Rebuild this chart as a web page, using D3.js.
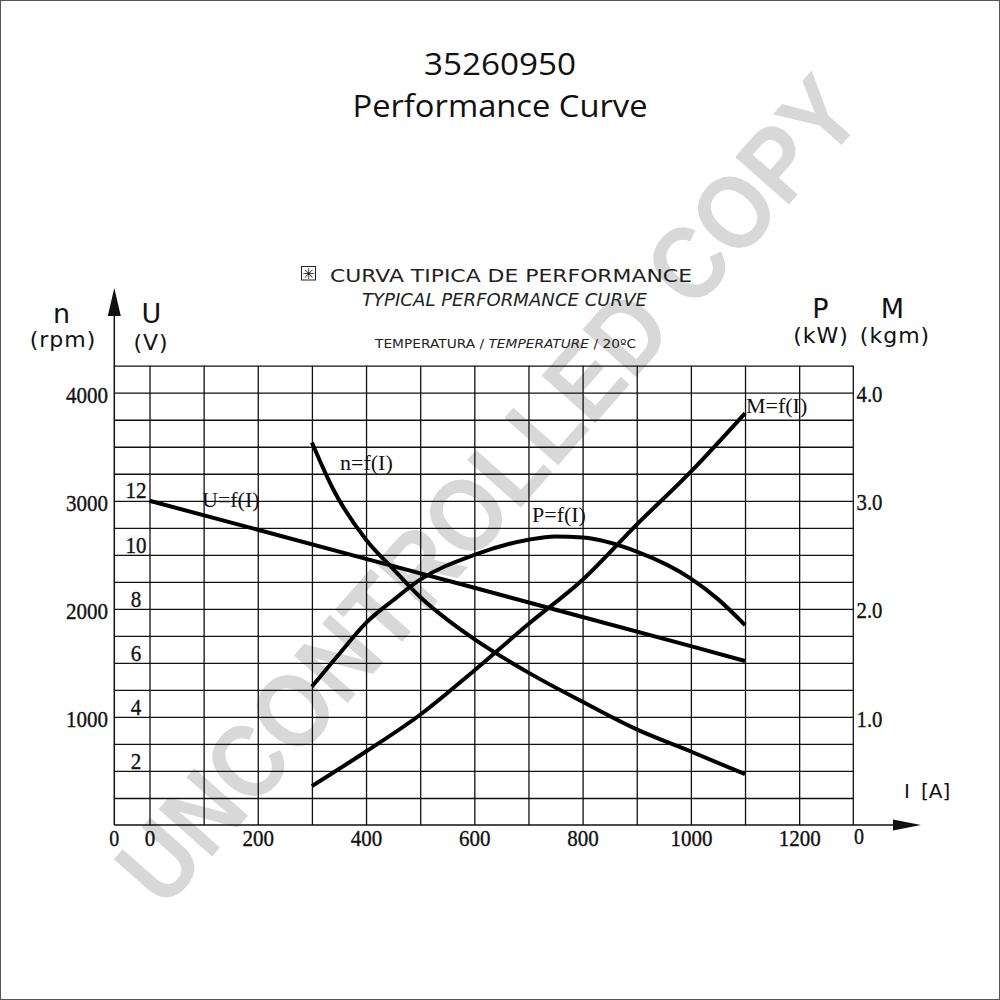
<!DOCTYPE html>
<html><head><meta charset="utf-8">
<script src="https://cdn.jsdelivr.net/npm/d3@7"></script>
<style>body{margin:0;background:#fff} svg{display:block}</style>
</head><body>
<svg id="c" width="1000" height="1000"></svg>
<script>
// ---- data ----
const gridCurrents = [0,100,200,300,400,500,600,700,800,900,1000,1100,1200];
const currentTicks = [0,200,400,600,800,1000,1200];
const rpmGrid = [250,500,750,1000,1250,1500,1750,2000,2250,2500,2750,3000,3250,3500,3750,4000];
const rpmTicks = [1000,2000,3000,4000];
const voltTicks = [2,4,6,8,10,12];
const powerTicks = [1.0,2.0,3.0,4.0];

const uCurrent = [0,200,400,600,800,1000,1100];
const uVolts   = [12.0,10.93,9.85,8.78,7.70,6.62,6.07];

const nCurrent = [300,340,400,450,500,550,600,700,800,900,1000,1100];
const nRpm     = [3540,3100,2640,2370,2110,1900,1720,1410,1140,885,680,470];

const pCurrent = [300,350,400,450,500,600,700,750,800,900,1000,1050,1100];
const pKw      = [1.28,1.58,1.87,2.08,2.27,2.50,2.64,2.67,2.66,2.53,2.28,2.09,1.85];

const mCurrent = [300,400,500,600,700,800,900,1000,1100];
const mKgm     = [0.36,0.68,1.02,1.43,1.86,2.27,2.78,3.27,3.81];

// ---- layout ----
const svg = d3.select("#c");
const X0 = 114.3, X1 = 853.3, Y0 = 825, Y1 = 365.7;
const x  = d3.scaleLinear().domain([-65,1300]).range([X0,X1]);
const yN = d3.scaleLinear().domain([0,4250]).range([Y0,Y1]);
const yU = d3.scaleLinear().domain([0,17]).range([Y0,Y1]);
const yP = d3.scaleLinear().domain([0,4.25]).range([Y0,Y1]);

// border
svg.append("rect").attr("x",0.5).attr("y",0.5).attr("width",999).attr("height",999)
  .attr("fill","none").attr("stroke","#555").attr("stroke-width",1);

// watermark (behind everything)
svg.append("text").text("UNCONTROLLED COPY")
  .attr("transform","translate(488,490) rotate(-48.5)")
  .attr("text-anchor","middle").attr("dominant-baseline","central")
  .attr("font-family","Liberation Sans, Arial, sans-serif").attr("font-weight","bold")
  .attr("font-size",104).attr("fill","#d8d8d8")
  .attr("textLength",1060).attr("lengthAdjust","spacingAndGlyphs");

// titles
svg.append("text").text("35260950").attr("x",500).attr("y",75).attr("text-anchor","middle")
  .attr("font-family","Open Sans, sans-serif").attr("font-size",31).attr("fill","#111")
  .attr("textLength",152).attr("lengthAdjust","spacingAndGlyphs");
svg.append("text").text("Performance Curve").attr("x",500).attr("y",117).attr("text-anchor","middle")
  .attr("font-family","Open Sans, sans-serif").attr("font-size",31).attr("fill","#111")
  .attr("textLength",295).attr("lengthAdjust","spacingAndGlyphs");

// CAD captions
const cad = "DejaVu Sans, sans-serif";
svg.append("rect").attr("x",301.5).attr("y",266.5).attr("width",14).attr("height",13.5)
  .attr("fill","none").attr("stroke","#222").attr("stroke-width",1);
svg.append("text").text("✳").attr("x",308.5).attr("y",278.5).attr("text-anchor","middle")
  .attr("font-family",cad).attr("font-size",15).attr("fill","#222");
svg.append("text").text("CURVA TIPICA DE PERFORMANCE").attr("x",330).attr("y",281.5)
  .attr("font-family",cad).attr("font-size",17).attr("fill","#222")
  .attr("textLength",362).attr("lengthAdjust","spacingAndGlyphs");
svg.append("text").text("TYPICAL PERFORMANCE CURVE").attr("x",362).attr("y",305.5)
  .attr("font-family",cad).attr("font-size",17).attr("font-style","italic").attr("fill","#222")
  .attr("textLength",285).attr("lengthAdjust","spacingAndGlyphs");
const tt = svg.append("text").attr("x",375).attr("y",347.5)
  .attr("font-family",cad).attr("font-size",12.5).attr("fill","#222")
  .attr("textLength",261).attr("lengthAdjust","spacingAndGlyphs");
tt.append("tspan").text("TEMPERATURA / ");
tt.append("tspan").attr("font-style","italic").text("TEMPERATURE");
tt.append("tspan").text(" / 20ºC");

// axis unit labels
function lab(t, xx, yy, fs){
  return svg.append("text").text(t).attr("x",xx).attr("y",yy).attr("text-anchor","middle")
    .attr("font-family",cad).attr("font-size",fs).attr("fill","#111").attr("letter-spacing",1);
}
lab("n",62,323,27); lab("(rpm)",63,347,22);
lab("U",152,323,27); lab("(V)",151,350,22);
lab("P",821,318,27); lab("(kW)",821,343,22);
lab("M",893,318,27); lab("(kgm)",895,343,22);
const ia = svg.append("text").attr("x",904).attr("y",798).attr("font-family",cad)
  .attr("font-size",20).attr("fill","#111");
ia.append("tspan").text("I");
ia.append("tspan").attr("dx",11).text("[A]");

// grid
const grid = svg.append("g").attr("stroke","#111").attr("stroke-width",1.3).attr("fill","none");
grid.append("g").attr("transform",`translate(0,${Y0})`)
  .call(d3.axisBottom(x).tickValues(gridCurrents).tickSize(-(Y0-Y1)).tickFormat(""))
  .call(g=>g.select(".domain").remove())
  .call(g=>g.selectAll("line").attr("stroke","#111").attr("stroke-width",1.3));
grid.append("g").attr("transform",`translate(${X0},0)`)
  .call(d3.axisLeft(yN).tickValues(rpmGrid.concat([4250])).tickSize(-(X1-X0)).tickFormat(""))
  .call(g=>g.select(".domain").remove())
  .call(g=>g.selectAll("line").attr("stroke","#111").attr("stroke-width",1.3));
// frame edges
grid.append("line").attr("x1",X1).attr("x2",X1).attr("y1",Y1).attr("y2",Y0);
grid.append("line").attr("x1",X0).attr("x2",X0).attr("y1",Y0).attr("y2",300).attr("stroke-width",1.5);
grid.append("line").attr("x1",X0).attr("x2",897).attr("y1",Y0).attr("y2",Y0).attr("stroke-width",1.5);
svg.append("path").attr("d",`M${X0},288 L${X0-6.5},316 L${X0+6.5},316 Z`).attr("fill","#111");
svg.append("path").attr("d",`M921,${Y0} L893,${Y0-5.5} L893,${Y0+5.5} Z`).attr("fill","#111");

// tick labels
const serif = "Liberation Serif, Times New Roman, serif";
function numW(s){ let w=0; for(const ch of s) w += (ch==="."?5:10.5); return w; }
const tl = svg.append("g").attr("font-family",serif).attr("font-size",23).attr("fill","#111")
  .attr("stroke","#111").attr("stroke-width",0.35);
tl.selectAll(".rpm").data(rpmTicks).join("text")
  .attr("x",108).attr("y",d=>yN(d)+9.8).attr("text-anchor","end").text(d=>d)
  .attr("textLength",d=>numW(String(d))).attr("lengthAdjust","spacingAndGlyphs");
tl.selectAll(".volt").data(voltTicks).join("text")
  .attr("x",136).attr("y",d=>yU(d)-2.3).attr("text-anchor","middle").text(d=>d)
  .attr("textLength",d=>numW(String(d))).attr("lengthAdjust","spacingAndGlyphs");
tl.selectAll(".pow").data(powerTicks).join("text")
  .attr("x",856.5).attr("y",d=>yP(d)+9.6).attr("text-anchor","start").text(d=>d.toFixed(1))
  .attr("textLength",d=>numW(d.toFixed(1))).attr("lengthAdjust","spacingAndGlyphs");
tl.selectAll(".cur").data(currentTicks).join("text")
  .attr("x",d=>x(d)+0.5).attr("y",845.5).attr("text-anchor","middle").text(d=>d)
  .attr("textLength",d=>numW(String(d))).attr("lengthAdjust","spacingAndGlyphs");
tl.append("text").attr("x",X0).attr("y",845.5).attr("text-anchor","middle").text("0")
  .attr("textLength",10).attr("lengthAdjust","spacingAndGlyphs");
tl.append("text").attr("x",854).attr("y",843.5).attr("text-anchor","start").text("0")
  .attr("textLength",10).attr("lengthAdjust","spacingAndGlyphs");

// curves
const curves = svg.append("g").attr("fill","none").attr("stroke","#000").attr("stroke-width",4)
  .attr("stroke-linejoin","round");
function draw(xs, ys, yScale, curve){
  const pts = xs.map((v,i)=>[v, ys[i]]);
  curves.append("path").datum(pts)
    .attr("d", d3.line().x(d=>x(d[0])).y(d=>yScale(d[1])).curve(curve));
}
draw(uCurrent, uVolts, yU, d3.curveLinear);
draw(nCurrent, nRpm, yN, d3.curveMonotoneX);
draw(pCurrent, pKw, yP, d3.curveMonotoneX);
draw(mCurrent, mKgm, yP, d3.curveMonotoneX);

// curve labels
const cl = svg.append("g").attr("font-family",serif).attr("font-size",22).attr("fill","#111");
cl.append("text").attr("x",340).attr("y",470).text("n=f(I)");
cl.append("text").attr("x",202).attr("y",507).text("U=f(I)");
cl.append("text").attr("x",532).attr("y",522).text("P=f(I)");
cl.append("text").attr("x",746).attr("y",413).text("M=f(I)");
</script>
</body></html>
